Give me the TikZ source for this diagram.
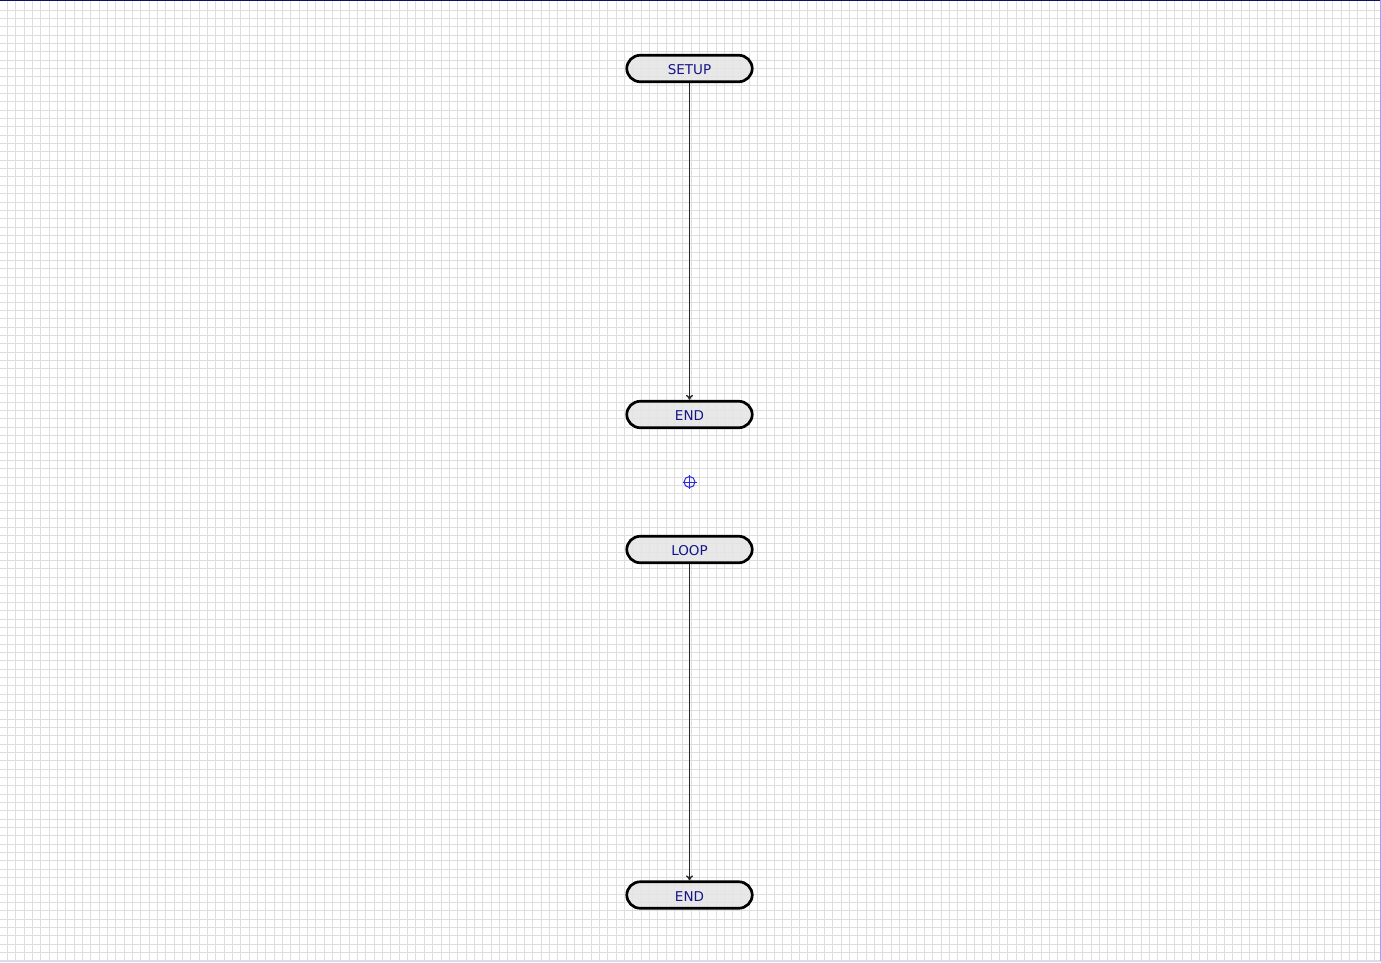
\documentclass[tikz,border=0pt]{standalone}
\usepackage{fontspec}
\setmainfont{DejaVu Sans}
\usetikzlibrary{calc,arrows.meta}
\definecolor{gridc}{HTML}{DEDEDE}
\definecolor{edge}{HTML}{000000}
\definecolor{wire}{HTML}{262626}
\definecolor{fillc}{HTML}{E4E4E4}
\definecolor{ink}{HTML}{14148A}
\definecolor{mark}{HTML}{2A2AE0}
\definecolor{rim}{HTML}{10106A}
\definecolor{rimr}{HTML}{A0A0FF}
\tikzset{
  grd/.style={draw=gridc, line width=0.65pt},
  term/.style={draw=edge, line width=2.7pt, fill=fillc, fill opacity=0.85, text opacity=1,
    rounded corners=13.5pt, minimum width=125.5pt, minimum height=26.5pt,
    inner sep=0pt, text height=12.5pt, text depth=0pt,
    text=ink, font=\fontsize{13.5pt}{15pt}\selectfont},
  flow/.style={draw=wire, line width=1.4pt, -{To[length=5pt,width=7pt]}},
  cross/.style={draw=mark, line width=1pt},
}

\begin{document}
\begin{tikzpicture}[x=1pt,y=-1pt]
  \useasboundingbox (0,0) rectangle (1381,962);
  \fill[white] (0,0) rectangle (1381,962);

  % grid
  \foreach \i in {0,...,165} {
    \draw[grd] ({7.4+8.335*\i},0) -- ({7.4+8.335*\i},962);
  }
  \foreach \j in {0,...,114} {
    \draw[grd] (0,{10+8.34*\j}) -- (1381,{10+8.34*\j});
  }
  \draw[rim, line width=1.5pt] (0,0.6) -- (1381,0.6);
  \draw[rimr, line width=1.2pt] (1380.3,0) -- (1380.3,962);
  \draw[rimr!40, line width=1pt] (0,961.5) -- (1381,961.5);

  % first pair
  \node[term] (setup) at (689.5,68.5) {SETUP};
  \node[term] (end1)  at (689.5,414.5) {END};
  \draw[flow] (setup) -- (end1);

  % origin mark
  \coordinate (orig) at (689.5,482);
  \draw[cross] (orig) circle (5.5);
  \draw[cross] ($(orig)+(-7,0)$) -- ($(orig)+(7,0)$);
  \draw[cross] ($(orig)+(0,-7)$) -- ($(orig)+(0,7)$);

  % second pair
  \node[term] (loop) at (689.5,549.5) {LOOP};
  \node[term] (end2) at (689.5,895) {END};
  \draw[flow] (loop) -- (end2);
\end{tikzpicture}
\end{document}
